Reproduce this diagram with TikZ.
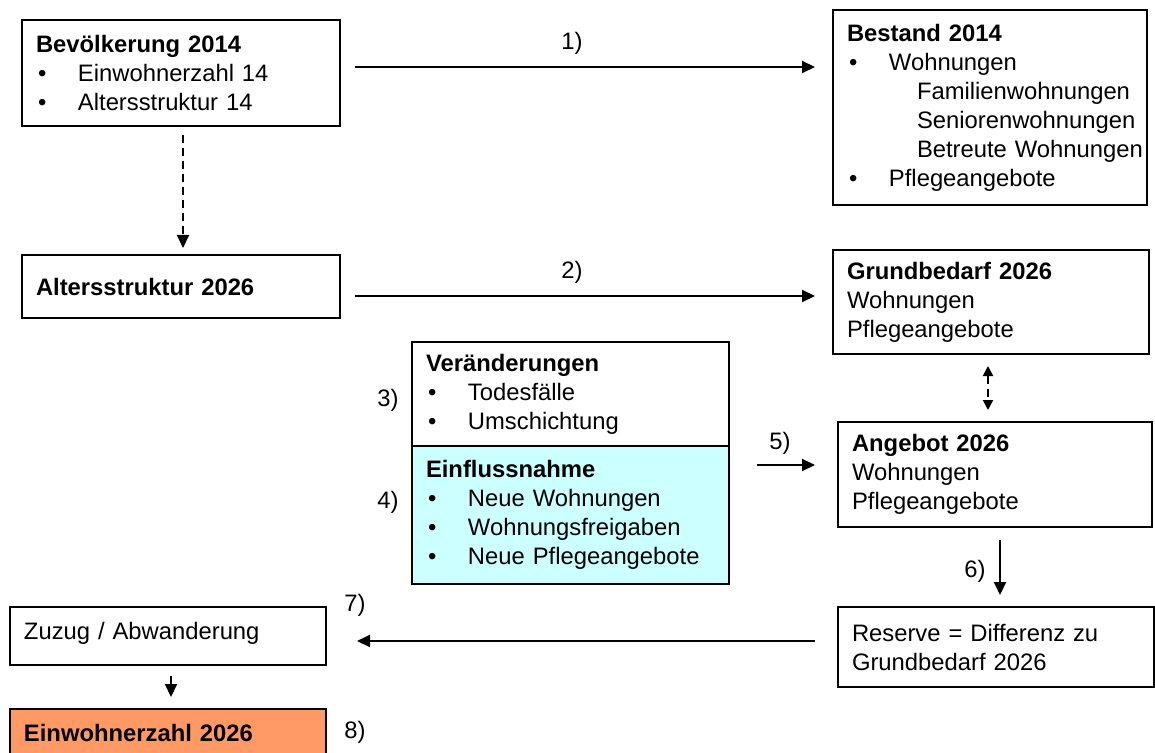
\documentclass[tikz,border=0pt]{standalone}
\usepackage{fontspec}
\setmainfont{Liberation Sans}
\usetikzlibrary{arrows.meta}
\definecolor{einfcyan}{RGB}{204,255,255}
\definecolor{einworange}{RGB}{255,153,102}
\newcommand{\itm}[1]{\makebox[21pt][l]{\hspace{1pt}\textbullet}#1}
\newcommand{\subitm}[1]{\hspace*{35pt}\rlap{#1}}

\begin{document}
\begin{tikzpicture}[x=0.5pt,y=-0.5pt,
  box/.style={draw, line width=1.4pt, anchor=north west, inner xsep=7pt, inner ysep=0pt, outer sep=0pt,
    align=left, font=\fontsize{11.9pt}{14.5pt}\selectfont},
  arr/.style={line width=1pt, -{Triangle[length=6.5pt,width=6pt]}},
  dasharr/.style={line width=1pt, dash pattern=on 4pt off 2.5pt},
  lbl/.style={inner sep=0pt, font=\fontsize{11.9pt}{14pt}\selectfont}]
  \useasboundingbox (0,0) rectangle (1155,753);

  % left column
  \node[box, minimum width=159pt, text width=145pt, minimum height=53pt] (bev) at (22,20)
    {\textbf{Bevölkerung 2014}\\ \itm{Einwohnerzahl 14}\\ \itm{Altersstruktur 14}};
  \node[box, minimum width=159pt, text width=145pt, minimum height=31.5pt] (alt) at (22,255)
    {\textbf{Altersstruktur 2026}};
  \node[box, minimum width=158pt, text width=144pt, minimum height=29pt, text depth=5pt] (zuz) at (10,607)
    {Zuzug / Abwanderung};
  \node[box, fill=einworange, minimum width=158pt, text width=144pt, minimum height=24pt] (ein) at (10,709)
    {\textbf{Einwohnerzahl 2026}};

  % middle
  \node[box, minimum width=158.5pt, text width=144.5pt, minimum height=52pt] (ver) at (412,342)
    {\textbf{Veränderungen}\\ \itm{Todesfälle}\\ \itm{Umschichtung}};
  \node[box, fill=einfcyan, minimum width=158.5pt, text width=144.5pt, minimum height=69pt] (einf) at (ver.south west)
    {\textbf{Einflussnahme}\\ \itm{Neue Wohnungen}\\ \itm{Wohnungsfreigaben}\\ \itm{Neue Pflegeangebote}};

  % right column
  \node[box, minimum width=157pt, text width=143pt, minimum height=97.5pt] (bestand) at (833,10)
    {\textbf{Bestand 2014}\\ \itm{Wohnungen}\\ \subitm{Familienwohnungen}\\ \subitm{Seniorenwohnungen}\\
     \subitm{Betreute Wohnungen}\\ \itm{Pflegeangebote}};
  \node[box, minimum width=158pt, text width=144pt, minimum height=52pt] (grund) at (833,250)
    {\textbf{Grundbedarf 2026}\\ Wohnungen\\ Pflegeangebote};
  \node[box, minimum width=157pt, text width=143pt, minimum height=52.5pt] (ang) at (838,422)
    {\textbf{Angebot 2026}\\ Wohnungen\\ Pflegeangebote};
  \node[box, minimum width=158pt, text width=144pt, minimum height=40pt] (res) at (838,607)
    {Reserve = Differenz zu\\ Grundbedarf 2026};

  % connectors
  \draw[arr, shorten <=7.5pt, shorten >=9pt] ([yshift=3pt]bev.east) -- ([yshift=3pt]bev.east -| bestand.west);
  \draw[arr, shorten <=7.5pt, shorten >=9pt] ([yshift=-4.75pt]alt.east) -- ([yshift=-4.75pt]alt.east -| grund.west);
  \draw[arr, dasharr, shorten <=4.5pt, shorten >=3.5pt] ([xshift=1pt]bev.south) -- ([xshift=1pt]bev.south |- alt.north);
  \draw[dasharr, {Triangle[length=5pt,width=5pt]}-{Triangle[length=5pt,width=5pt]}, shorten <=6pt, shorten >=6pt]
    ([xshift=-1.5pt]grund.south) -- ([xshift=-1.5pt]grund.south |- ang.north);
  \draw[arr, shorten <=14pt, shorten >=11.5pt] ([yshift=-9.5pt]einf.north east) -- ([yshift=-9.5pt]einf.north east -| ang.west);
  \draw[arr, shorten <=6.5pt, shorten >=6pt] ([xshift=2.5pt]ang.south) -- ([xshift=2.5pt]ang.south |- res.north);
  \draw[arr, shorten <=11.5pt, shorten >=15.5pt] ([yshift=3pt]res.west) -- ([yshift=3pt]res.west -| zuz.east);
  \draw[arr, shorten <=5.5pt, shorten >=6pt] ([xshift=1.5pt]zuz.south) -- ([xshift=1.5pt]zuz.south |- ein.north);

  % step numbers
  \node[lbl] (n1) at (572,43) {1)};
  \node[lbl] (n2) at (572,272) {2)};
  \node[lbl] (n3) at (388,400) {3)};
  \node[lbl] (n4) at (388,502) {4)};
  \node[lbl] (n5) at (780,443) {5)};
  \node[lbl] (n6) at (975,571) {6)};
  \node[lbl] (n7) at (355,605) {7)};
  \node[lbl] (n8) at (355,732) {8)};
\end{tikzpicture}
\end{document}
